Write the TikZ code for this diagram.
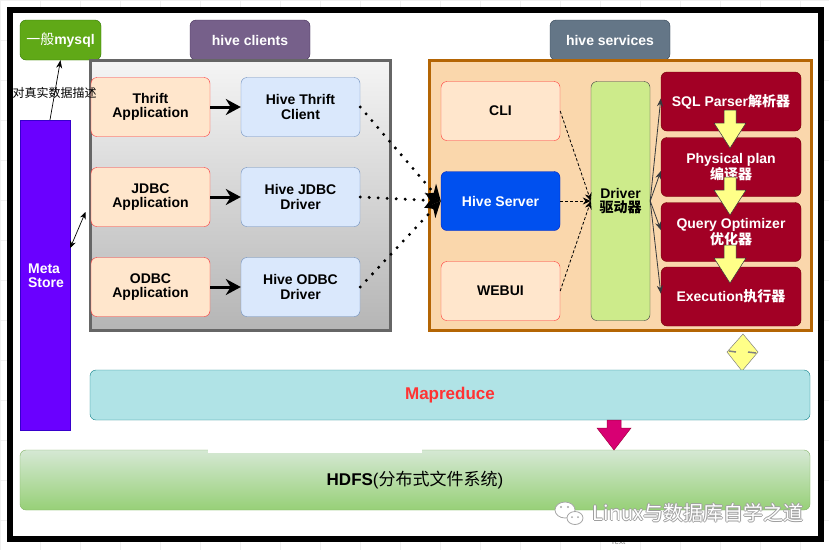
\documentclass[tikz,border=0pt]{standalone}
\usepackage{fontspec}
\setmainfont{Liberation Sans}
\newfontfamily\cjk{Noto Sans CJK SC}
\usetikzlibrary{arrows.meta}
\tikzset{>=latex}
\definecolor{appfill}{HTML}{FFE6CC}
\definecolor{appline}{HTML}{FF3333}
\definecolor{clientfill}{HTML}{DAE8FC}
\definecolor{clientline}{HTML}{6C8EBF}
\definecolor{servfill}{HTML}{FAD7AC}
\definecolor{servline}{HTML}{B46504}
\definecolor{stepfill}{HTML}{A20025}
\definecolor{stepline}{HTML}{6F0000}
\definecolor{driverfill}{HTML}{CDEB8B}
\definecolor{darkline}{HTML}{36393D}
\definecolor{yellowfill}{HTML}{FFFF88}
\definecolor{mapfill}{HTML}{B0E3E6}
\definecolor{mapline}{HTML}{0E8088}
\definecolor{hdfstop}{HTML}{D5E8D4}
\definecolor{hdfsbottom}{HTML}{97D077}
\definecolor{hdfsline}{HTML}{82B366}
\definecolor{metafill}{HTML}{6A00FF}
\definecolor{metaline}{HTML}{3700CC}
\definecolor{mysqlfill}{HTML}{60A917}
\definecolor{mysqlline}{HTML}{2D7600}
\definecolor{clienttag}{HTML}{76608A}
\definecolor{clienttagline}{HTML}{432D57}
\definecolor{servtag}{HTML}{647687}
\definecolor{servtagline}{HTML}{314354}
\definecolor{serverfill}{HTML}{0050EF}
\definecolor{serverline}{HTML}{001DBC}
\definecolor{magentafill}{HTML}{D80073}
\definecolor{magentaline}{HTML}{A50040}
\tikzset{
  box/.style={rounded corners=6pt, inner sep=0pt, align=center,
    font=\fontsize{14}{14.5}\selectfont\bfseries},
  appbox/.style={box, fill=appfill, draw=appline, minimum width=119pt, minimum height=59pt},
  clientbox/.style={box, fill=clientfill, draw=clientline, minimum width=119pt, minimum height=59pt},
  stepbox/.style={box, fill=stepfill, draw=stepline, text=white, minimum width=140pt, minimum height=59pt},
  tagbox/.style={box, text=white, minimum width=120pt, minimum height=40pt},
  gridline/.style={draw=gray!12, line width=0.6pt},
  thickarrow/.style={line width=3pt, -{Stealth[length=15pt,width=16pt]}},
  dotline/.style={line width=3.3pt, dash pattern=on 0pt off 9pt, line cap=round,
    -{Stealth[length=16pt,width=15pt]}},
  dashline/.style={line width=0.8pt, dash pattern=on 3pt off 2pt, -{Stealth[length=8pt,width=7pt]}},
  driverline/.style={darkline, line width=0.8pt, -{Stealth[length=8pt,width=6pt]}},
  blockarrow/.style={fill=yellowfill, draw=darkline, line width=0.5pt},
}

\begin{document}
\begin{tikzpicture}[x=1pt,y=-1pt]
  \useasboundingbox (0,0) rectangle (829,550);
  % grid round the frame
  \draw[gridline, step=40pt] (0,0) grid (829,550);
  \fill[white] (10,10) rectangle (821,539);
  \node[text=gray, font=\fontsize{8}{8}\selectfont] (texttag) at (618,542) {Text};

  % tags on top
  \node[tagbox, fill=mysqlfill, draw=mysqlline, minimum width=81pt, font=\fontsize{14}{14}\selectfont]
    (mysql) at (60.5,40) {{\cjk 一般}\textbf{mysql}};
  \node[tagbox, fill=clienttag, draw=clienttagline] (clienttag) at (250,40) {hive clients};
  \node[tagbox, fill=servtag, draw=servtagline] (servtag) at (610,40) {hive services};

  % hive clients
  \node[shade, top color=gray!8, bottom color=gray!58, draw=gray!120, line width=3pt,
    minimum width=300pt, minimum height=270pt] (clients) at (240,195) {};
  \node[appbox] (thriftapp) at (150.5,107) {Thrift\\Application};
  \node[appbox] (jdbcapp) at (150.5,197) {JDBC\\Application};
  \node[appbox] (odbcapp) at (150.5,287) {ODBC\\Application};
  \node[clientbox] (thriftclient) at (300.5,107) {Hive Thrift\\Client};
  \node[clientbox] (jdbcdriver) at (300.5,197) {Hive JDBC\\Driver};
  \node[clientbox] (odbcdriver) at (300.5,287) {Hive ODBC\\Driver};
  \draw[thickarrow] (thriftapp) -- (thriftclient);
  \draw[thickarrow] (jdbcapp) -- (jdbcdriver);
  \draw[thickarrow] (odbcapp) -- (odbcdriver);

  % hive services
  \node[fill=servfill, draw=servline, line width=3pt,
    minimum width=382pt, minimum height=270pt] (services) at (620.5,195) {};
  \node[appbox] (cli) at (500.5,111) {CLI};
  \node[box, fill=serverfill, draw=serverline, text=white, minimum width=119pt,
    minimum height=59pt] (hiveserver) at (500.5,201) {Hive Server};
  \node[appbox] (webui) at (500.5,291) {WEBUI};
  \node[box, fill=driverfill, draw=darkline, minimum width=59pt, minimum height=239pt]
    (driver) at (620.5,201) {Driver\\{\cjk 驱动器}};
  \node[stepbox] (sqlparser) at (731,101.5) {SQL Parser{\cjk 解析器}};
  \node[stepbox] (physplan) at (731,167) {Physical plan\\{\cjk 编译器}};
  \node[stepbox] (optimizer) at (731,232) {Query Optimizer\\{\cjk 优化器}};
  \node[stepbox] (execution) at (731,296.5) {Execution{\cjk 执行器}};
  \foreach \y in {110,177,245}
    \draw[blockarrow] (724,\y) -- (736,\y) -- (736,\y+13) -- (746,\y+13) -- (730,\y+38)
      -- (714,\y+13) -- (724,\y+13) -- cycle;

  \draw[dotline] (thriftclient.east) -- (hiveserver.west);
  \draw[dotline] (jdbcdriver.east) -- (hiveserver.west);
  \draw[dotline] (odbcdriver.east) -- (hiveserver.west);
  \draw[dashline] (cli.east) -- (driver.west);
  \draw[dashline] (hiveserver.east) -- (driver.west);
  \draw[dashline] (webui.east) -- (driver.west);
  \draw[driverline] (driver.east) -- ([yshift=3pt]sqlparser.west);
  \draw[driverline] (driver.east) -- ([yshift=-4pt]physplan.west);
  \draw[driverline] (driver.east) -- ([yshift=2pt]optimizer.west);
  \draw[driverline] (driver.east) -- ([yshift=3pt]execution.west);

  % meta store
  \node[fill=metafill, draw=metaline, minimum width=50pt, minimum height=310pt,
    inner sep=0pt] (metastore) at (45,275) {};
  \node[text=white, align=left, font=\fontsize{14}{14}\selectfont\bfseries]
    (metalabel) at (46,276) {Meta\\Store};
  \draw[line width=0.7pt, -{Stealth[length=8pt,width=6pt]}] ([xshift=5pt]metastore.north) --
    node[pos=0.45, font=\cjk\fontsize{12}{12}\selectfont] (describe) {对真实数据描述} (mysql.south);
  \draw[line width=0.7pt, {Stealth[length=7pt,width=6pt]}-{Stealth[length=7pt,width=6pt]}]
    ([yshift=27pt]metastore.east) -- ([xshift=-3pt,yshift=-17pt]clients.west);

  % mapreduce and hdfs
  \draw[blockarrow, fill=yellowfill, draw=gray] (743,334) -- (758,352) -- (742,371) -- (727,352) -- cycle;
  \draw[gray, line width=1.5pt] (729,351) -- (736,352) (748,352) -- (756,353);
  \node[box, fill=mapfill, draw=mapline, text={rgb,255:red,255;green,51;blue,51},
    minimum width=720pt, minimum height=50pt, font=\fontsize{17}{17}\selectfont\bfseries]
    (mapreduce) at (450,395) {Mapreduce};
  \node[box, top color=hdfstop, bottom color=hdfsbottom, draw=hdfsline,
    minimum width=790pt, minimum height=60pt, font=\fontsize{17}{17}\selectfont]
    (hdfs) at (415,480) {\textbf{HDFS}({\cjk 分布式文件系统})};
  \fill[white] (208,446) rectangle (422,453);
  \draw[fill=magentafill, draw=magentaline, line width=0.5pt] (607,420) -- (621,420) -- (621,428)
    -- (631,428) -- (614,450) -- (597,428) -- (607,428) -- cycle;

  % watermark
  \foreach \dx/\dy [count=\i] in {0.8/0,-0.8/0,0/0.8,0/-0.8}
    \node[text=gray!75, font=\cjk\fontsize{20}{20}\selectfont] (shadow\i) at (698+\dx,513+\dy)
      {Linux与数据库自学之道};
  \node[text=white, font=\cjk\fontsize{20}{20}\selectfont] (watermark) at (698,513)
    {Linux与数据库自学之道};
  \draw[gray!70, fill=white, line width=0.8pt] (565,510) ellipse[x radius=10pt, y radius=8pt];
  \draw[gray!70, fill=white, line width=0.8pt] (575,518) ellipse[x radius=8pt, y radius=6.5pt];
  \fill[gray!70] (561,507) circle[radius=1.2pt] (568,507) circle[radius=1.2pt]
    (572,517) circle[radius=1pt] (578,517) circle[radius=1pt];

  % outer frame
  \draw[line width=6pt] (10,10) rectangle (821,539);
\end{tikzpicture}
\end{document}
